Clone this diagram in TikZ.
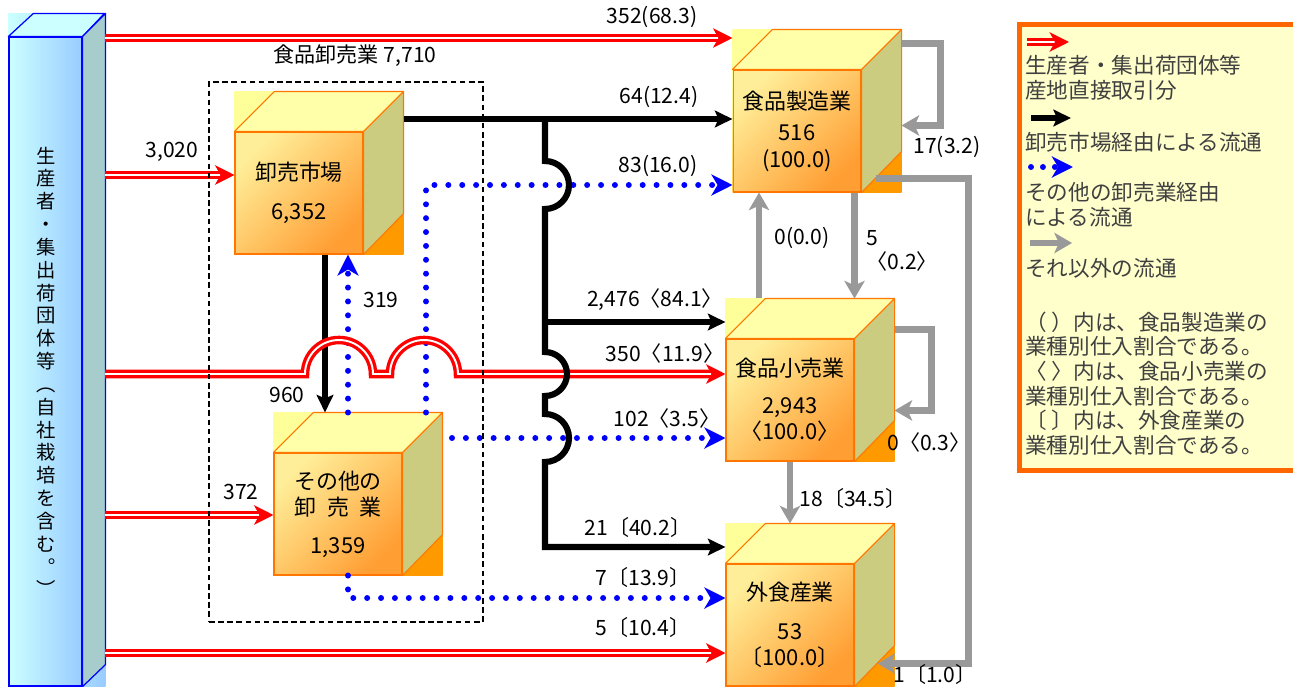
\documentclass[tikz,border=0pt]{standalone}
\usepackage{fontspec}
\setmainfont{Noto Sans CJK JP}
\usetikzlibrary{arrows.meta, positioning, calc, backgrounds}

\definecolor{cubeedge}{HTML}{FF7700}
\definecolor{frontlight}{HTML}{FFEE99}
\definecolor{frontdark}{HTML}{FF9E33}
\definecolor{cubelid}{HTML}{FFFFAA}
\definecolor{cubeolive}{HTML}{CCCC80}
\definecolor{cubeyellow}{HTML}{FFFF99}
\definecolor{cubeorange}{HTML}{FF9900}
\definecolor{barlight}{HTML}{CCFFFF}
\definecolor{bardark}{HTML}{99CCFF}
\definecolor{barside}{HTML}{A6CCCC}
\definecolor{dotblue}{HTML}{0000FF}
\definecolor{flowgray}{HTML}{999999}
\definecolor{keyfill}{HTML}{FFFFCC}
\definecolor{keyedge}{HTML}{FF6600}

\begin{document}
\begin{tikzpicture}[x=0.02cm, y=-0.02cm,
    font=\fontsize{12pt}{14pt}\selectfont,
    cubeface/.style={
        draw=cubeedge,
        line width=0.6pt,
        top color=frontlight,
        bottom color=frontdark,
        shading angle=45,
        minimum width=2.56cm,
        minimum height=2.44cm,
        inner sep=0pt,
        align=center,
        font=\fontsize{12.5pt}{15pt}\selectfont
    },
    cubetop/.style={fill=cubelid, draw=cubeedge, line width=0.6pt, line join=round},
    cubeside/.style={fill=cubeolive, draw=cubeedge, line width=0.6pt, line join=round},
    cubeback/.style={top color=cubeyellow, bottom color=cubeorange, shading angle=45},
    prodface/.style={
        draw=dotblue,
        line width=0.7pt,
        left color=barlight,
        right color=bardark,
        minimum width=1.46cm,
        minimum height=12.98cm,
        inner sep=0pt
    },
    prodlid/.style={fill=barlight, draw=dotblue, line width=0.7pt, line join=round},
    prodside/.style={fill=barside, draw=dotblue, line width=0.7pt, line join=round},
    prodback/.style={left color=barlight, right color=bardark},
    prodtext/.style={
        anchor=north,
        align=center,
        inner sep=0pt,
        font=\fontsize{11pt}{13pt}\selectfont
    },
    groupbox/.style={
        draw,
        line width=1.2pt,
        dash pattern=on 3.2pt off 2pt,
        minimum width=5.48cm,
        minimum height=10.8cm
    },
    keybox/.style={
        draw=keyedge,
        fill=keyfill,
        line width=2.6pt,
        minimum width=5.82cm,
        minimum height=8.92cm
    },
    prodflow/.style={
        draw=red,
        line width=1.9pt,
        double=white,
        double distance=1.1pt,
        -{Stealth[length=11pt, width=11pt, inset=3pt]}
    },
    mktflow/.style={
        draw=black,
        line width=3.5pt,
        -{Stealth[length=10pt, width=9.5pt, inset=2pt]}
    },
    othflow/.style={
        draw=dotblue,
        line width=3.4pt,
        line cap=round,
        dash pattern=on 0pt off 7.9pt,
        -{Stealth[length=12pt, width=12pt, inset=3.5pt]}
    },
    restflow/.style={
        draw=flowgray,
        line width=3.8pt,
        -{Stealth[length=10pt, width=11.5pt, inset=2.5pt]}
    },
    lbl/.style={inner sep=0pt},
    keytext/.style={
        anchor=west,
        align=left,
        inner sep=0pt,
        text=black!75,
        font=\fontsize{12.3pt}{14pt}\selectfont
    }
]

\useasboundingbox (0,0) rectangle (1293,686);
\clip (0,0) rectangle (1293,686);
\begin{scope}[on background layer]
    \fill[white] (0,0) rectangle (1293,686);
\end{scope}

% =====================
% Producers (left bar)
% =====================

\node[prodface] (producer) at (45.5,361.5) {};
\begin{scope}[on background layer]
    \shade[prodback] (producer.south west) rectangle ($(producer.north east)+(23,-23)$);
\end{scope}
\filldraw[prodlid] (producer.north west) -- ++(25,-23) -- ++(71,0) -- (producer.north east) -- cycle;
\filldraw[prodside] (producer.north east) -- ++(23,-23) -- ++(0,651) -- (producer.south east) -- cycle;

\node[prodtext, below=2.2cm of producer.north, xshift=0.02cm] (producerlabel) {
    生\\産\\者\\・\\集\\出\\荷\\団\\体\\等\\︵\\自\\社\\栽\\培\\を\\含\\む\\︒\\︶
};

% =====================
% Cubes
% =====================

\node[cubeface] (market) at (299,193) {卸売市場\\[7pt]6,352};
\node[cubeface] (otherwh) at (338,514) {その他の\\卸\hspace{0.5em}売\hspace{0.5em}業\\[6.5pt]1,359};
\node[cubeface] (mfg) at (797,131) {食品製造業\\[3pt]516\\(100.0)};
\node[cubeface] (retail) at (790,400) {食品小売業\\[6pt]2,943\\〈100.0〉};
\node[cubeface] (dining) at (790,625) {外食産業\\[7pt]53\\〔100.0〕};

\foreach \c in {market, otherwh, mfg, retail, dining} {
    \coordinate (\c-tr) at ($(\c.north east)+(40,-40)$);
    \coordinate (\c-top) at ($(\c.north)+(20,-40)$);
    \begin{scope}[on background layer]
        \shade[cubeback] (\c.south west) rectangle (\c-tr);
    \end{scope}
    \filldraw[cubetop] (\c.north west) -- ++(40,-40) -- (\c-tr) -- (\c.north east) -- cycle;
    \filldraw[cubeside] (\c.north east) -- (\c-tr) -- ++(0,122) -- (\c.south east) -- cycle;
}

% =====================
% Other wholesalers (blue)
% =====================

\coordinate (lift) at ([xshift=0.98cm]market.south);
\coordinate (rise) at (426,185);
\coordinate (lane3) at (452,438);
\coordinate (lane4) at (348,598);

\draw[othflow] (lift |- otherwh-top) -- (lift);
\draw[othflow] (rise |- otherwh-top) -- (rise) -- (mfg.west |- rise);
\draw[othflow] (lane3) -- (retail.west |- lane3);
\draw[othflow] (lift |- otherwh.south) -- (lane4) -- (dining.west |- lane4);

% =====================
% Wholesale market (black)
% =====================

\coordinate (drop) at ([xshift=0.52cm]market.south);
\draw[mktflow] (drop) -- (drop |- otherwh-top);

% =====================
% Direct from producers (red)
% =====================

\coordinate (src1) at (105,38);
\coordinate (src2) at (105,175);
\coordinate (src3) at (105,374);
\coordinate (src4) at (105,515);
\coordinate (src5) at (105,653);

\draw[prodflow] (src1) -- (mfg.west |- src1);
\draw[prodflow] (src2) -- (market.west |- src2);
\draw[prodflow] (src3) -- ++(200,0) arc[start angle=180, end angle=0, radius=0.68cm]
    -- ++(17,0) arc[start angle=180, end angle=0, radius=0.68cm] -- (retail.west |- src3);
\draw[prodflow] (src4) -- (otherwh.west |- src4);
\draw[prodflow] (src5) -- (dining.west |- src5);

% trunk from the market, hopping over the crossing lines
\coordinate (trunktop) at (545,119);
\coordinate (trunkmid) at (545,322);
\coordinate (trunkbot) at (545,547);

\draw[mktflow] (market-tr |- trunktop) -- (mfg.west |- trunktop);
\draw[mktflow] (trunktop) -- ++(0,42) arc[start angle=90, end angle=-90, radius=0.48cm]
    -- ++(0,143) arc[start angle=90, end angle=-90, radius=0.44cm]
    -- ++(0,18) arc[start angle=90, end angle=-90, radius=0.48cm]
    -- (trunkbot) -- (dining.west |- trunkbot);
\draw[mktflow] (trunkmid) -- (retail.west |- trunkmid);

% =====================
% Other flows (gray)
% =====================

\coordinate (upx) at ([xshift=-0.76cm]mfg.south);
\coordinate (mfgexit) at ([xshift=0.28cm, yshift=0.28cm]mfg.south east);
\coordinate (diningentry) at ([xshift=0.46cm, yshift=0.46cm]dining.south east);

\draw[restflow] ([yshift=-0.28cm]mfg-tr) -- ++(39,0) -- ++(0,82) -- ++(-39,0);
\draw[restflow] ([yshift=-0.62cm]retail-tr) -- ++(37,0) -- ++(0,81) -- ++(-37,0);
\draw[restflow] (upx |- retail-top) -- (upx);
\draw[restflow] (retail.east |- mfg.south) -- (retail.east |- retail-top);
\draw[restflow] (retail.south) -- (retail.south |- dining-top);
\draw[restflow] (mfgexit) -- ++(93,0) |- (diningentry);

% =====================
% Food wholesale group
% =====================

\node[groupbox] (wholesale) at (346,352) {};
\node[lbl, above=0.28cm of wholesale, xshift=0.18cm] (groupname) {食品卸売業 7,710};

% =====================
% Flow labels
% =====================

\node[lbl] (l-top) at (652,17) {352(68.3)};
\node[lbl] (l-mkt) at (172,152) {3,020};
\node[lbl] (l-oth) at (241,492) {372};
\node[lbl] (l-m1) at (659,97) {64(12.4)};
\node[lbl] (l-o1) at (658,166) {83(16.0)};
\node[lbl] (l-m2) at (655,300) {2,476〈84.1〉};
\node[lbl] (l-p3) at (665,353) {350〈11.9〉};
\node[lbl] (l-o2) at (667,418) {102〈3.5〉};
\node[lbl] (l-m3) at (638,527) {21〔40.2〕};
\node[lbl] (l-o3) at (643,577) {7〔13.9〕};
\node[lbl] (l-p5) at (643,627) {5〔10.4〕};
\node[lbl] (l-drop) at (287,395) {960};
\node[lbl] (l-lift) at (381,300) {319};
\node[lbl] (l-r1) at (947,147) {17(3.2)};
\node[lbl] (l-r2) at (802,238) {0(0.0)};
\node[lbl, align=left, anchor=west] (l-r3) at (866,251) {5\\〈0.2〉};
\node[lbl] (l-r4) at (929,442) {0〈0.3〉};
\node[lbl] (l-r5) at (853,498) {18〔34.5〕};
\node[lbl] (l-r6) at (935,674) {1〔1.0〕};

% =====================
% Legend
% =====================

\node[keybox] (legend) at (1165,247.5) {};

\coordinate (k1a) at (1027,42);
\coordinate (k1b) at (1069,42);
\coordinate (k2a) at (1031,118);
\coordinate (k2b) at (1071,118);
\coordinate (k3a) at (1031,167);
\coordinate (k3b) at (1073,167);
\coordinate (k4a) at (1030,243);
\coordinate (k4b) at (1072,243);

\draw[prodflow] (k1a) -- (k1b);
\draw[mktflow] (k2a) -- (k2b);
\draw[othflow, dash pattern=on 0pt off 6.8pt] (k3a) -- (k3b);
\draw[restflow] (k4a) -- (k4b);

\node[keytext] (k1) at (1025,77.5) {生産者・集出荷団体等\\産地直接取引分};
\node[keytext] (k2) at (1025,142) {卸売市場経由による流通};
\node[keytext] (k3) at (1025,205) {その他の卸売業経由\\による流通};
\node[keytext] (k4) at (1025,268) {それ以外の流通};
\node[keytext] (k5) at (1025,383.5) {
    （ ）内は、食品製造業の\\業種別仕入割合である。\\
    〈 〉内は、食品小売業の\\業種別仕入割合である。\\
    〔 〕内は、外食産業の\\業種別仕入割合である。
};

\end{tikzpicture}
\end{document}
